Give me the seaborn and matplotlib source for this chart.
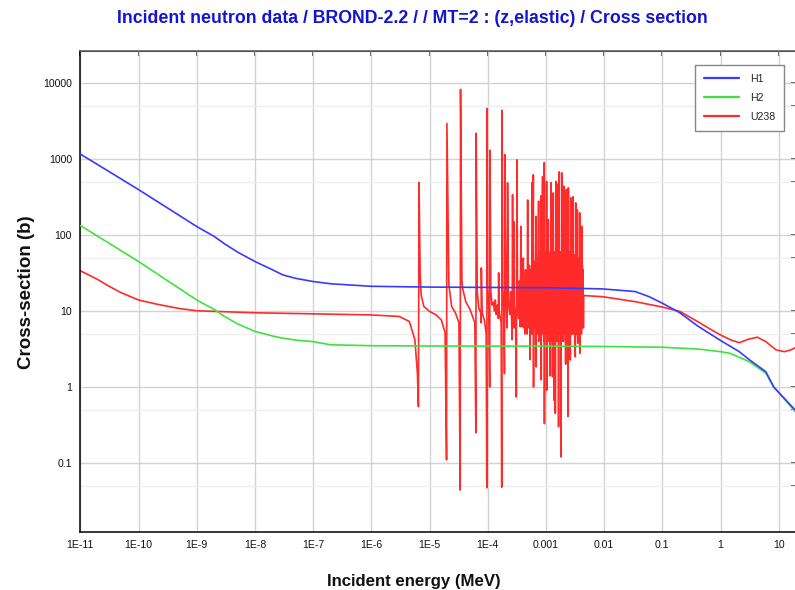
import matplotlib
matplotlib.use("Agg")
import matplotlib.pyplot as plt
import seaborn as sns
import pandas as pd
from matplotlib import font_manager
from matplotlib.ticker import FixedLocator, NullLocator, NullFormatter

# ---------------- data ----------------
title_text = "Incident neutron data / BROND-2.2 / / MT=2 : (z,elastic) / Cross section"
x_label = "Incident energy (MeV)"
y_label = "Cross-section (b)"

x_ticks = [1e-11, 1e-10, 1e-9, 1e-8, 1e-7, 1e-6, 1e-5, 1e-4, 1e-3, 1e-2, 1e-1, 1, 10]
x_tick_labels = ["1E-11", "1E-10", "1E-9", "1E-8", "1E-7", "1E-6", "1E-5", "1E-4",
                 "0.001", "0.01", "0.1", "1", "10"]
y_ticks = [0.1, 1, 10, 100, 1000, 10000]
y_tick_labels = ["0.1", "1", "10", "100", "1000", "10000"]
y_minor_ticks = [0.05, 0.5, 5, 50, 500, 5000]

series_names = ["H1", "H2", "U238"]
series_colors = ["#3a3aff", "#3ee23e", "#ff2a2a"]

h1_energy_mev = [1e-11, 1e-10, 1e-9, 2e-9, 3e-9, 5e-9, 1e-8, 2e-8, 3e-8, 5e-8, 1e-7, 2e-7,
                 1e-6, 1e-5, 1e-4, 1e-3, 9.2e-3, 3.4e-2, 5.9e-2, 0.1, 0.2, 0.4, 1.0, 2.1,
                 3.1, 6.0, 8.2, 20.0]
h1_xs_b = [1170, 398, 130, 96, 77, 60, 45, 35, 30, 27, 24.5, 22.9,
           21.2, 20.7, 20.5, 20.3, 19.6, 18.1, 15.5, 12.7, 9.5, 6.4, 4.1, 2.92,
           2.3, 1.59, 1.0, 0.48]

h2_energy_mev = [1e-11, 1e-10, 1e-9, 2e-9, 3e-9, 5e-9, 1e-8, 2e-8, 3e-8, 5e-8, 1e-7, 2e-7,
                 1e-6, 1e-5, 1e-3, 1e-2, 0.1, 0.4, 1.0, 1.45, 2.3, 3.1, 6.0, 8.2, 20.0]
h2_xs_b = [134, 45, 14, 10.5, 8.5, 6.8, 5.4, 4.7, 4.4, 4.15, 3.96, 3.6,
           3.5, 3.47, 3.45, 3.42, 3.34, 3.17, 2.92, 2.78, 2.39, 2.16, 1.52, 1.0, 0.46]

# U238 energies given in eV
u238_energy_ev = [
    1e-5, 2e-5, 3.2e-5, 5e-5, 1e-4, 2e-4, 5e-4, 1e-3, 1e-2, 0.1, 1, 3, 4.5, 5.6, 6.2, 6.45,
    6.6, 6.9, 7.2, 8, 10,
    13, 16, 18.5, 19.6, 19.9, 21.5, 24, 28, 32, 33.6, 34.1, 36, 37, 42, 50, 60, 62.5, 63.3,
    66, 70, 76, 77.3, 77.6, 80, 88, 94, 96.5, 97.5, 100, 104, 108, 109.5, 113, 119, 125,
    130, 135, 140, 146, 152, 154, 157, 170, 174, 176.5, 180, 188, 194, 196, 205, 214, 219,
    228, 240, 248, 258, 262, 267, 272, 278, 282, 287, 300, 310, 318, 325, 340, 352, 362,
    372, 380, 392, 400, 409, 418, 426, 435, 446, 455, 466, 476, 485, 493, 503, 512, 522,
    533, 540, 548, 560, 570, 577, 585, 596, 607, 612, 620, 630, 640, 650, 661, 675, 680,
    690, 700, 712, 722, 735, 748, 754, 762, 772, 782, 795, 808, 822, 830, 840, 850, 862,
    876, 882, 895, 905, 917, 930, 937, 942, 952, 965, 978, 990, 1005, 1016, 1026, 1032,
    1045, 1058, 1070, 1083, 1099, 1110, 1125, 1140, 1155, 1170, 1185, 1200, 1223, 1230,
    1245, 1262, 1280, 1295, 1315, 1338, 1345, 1360, 1380, 1400, 1418, 1435, 1450, 1484,
    1492, 1510, 1530, 1555, 1565, 1585, 1605, 1625, 1648, 1670, 1698, 1710, 1740, 1770,
    1790, 1813, 1835, 1860, 1882, 1895, 1920, 1945, 1970, 1995, 2020, 2053, 2065, 2090,
    2120, 2150, 2180, 2210, 2245, 2260, 2290, 2330, 2360, 2400, 2430, 2450, 2490, 2530,
    2570, 2620, 2670, 2690, 2730, 2770, 2820, 2870, 2930, 2950, 2990, 3040, 3090, 3140,
    3190, 3247, 3270, 3330, 3400, 3460, 3480, 3520, 3560, 3620, 3680, 3740, 3796, 3820,
    3870, 3940, 4000, 4070, 4130, 4160, 4220, 4280, 4340, 4400, 4450,
    9200, 34400, 1e5, 2e5, 4e5, 7e5, 1e6, 1.5e6, 2.1e6, 3e6, 4.3e6, 6e6, 9e6, 1.25e7,
    1.6e7, 2e7]
u238_xs_b = [
    34, 26, 21, 17.5, 14, 12.4, 10.8, 10.1, 9.5, 9.2, 8.9, 8.5, 7.3, 4.2, 1.5, 0.55,
    490, 30, 16, 11.5, 9.9,
    8.9, 7.6, 5.2, 0.11, 2950, 22, 11.5, 9.4, 7, 0.044, 8300, 25, 20, 13.3, 10.4, 7, 0.25, 2200,
    18, 11, 9.5, 7, 37, 9.5, 7.5, 5, 0.047, 4650, 20, 12, 1.0, 1310, 18, 12, 13,
    10, 14, 9, 12, 8, 32, 10, 7, 0.048, 4400, 20, 11, 1.5, 1150, 15, 6, 490,
    12, 9, 18, 7, 4.2, 340, 14, 6, 150, 12, 9, 0.74, 980, 14, 8, 25, 6.2,
    130, 8, 6.2, 40, 50, 6, 28, 5, 35, 6, 22, 5, 290, 6, 30, 8, 40,
    2.3, 25, 7, 35, 5, 490, 9, 5, 625, 1.0, 30, 6, 45, 7, 25, 176, 1.85,
    30, 7, 50, 5, 40, 280, 4, 45, 7, 60, 5, 50, 330, 1.24, 35, 6, 55,
    590, 5, 40, 6, 60, 4, 905, 0.33, 45, 6, 55, 5, 60, 5, 510, 0.91,
    40, 5, 65, 6, 160, 4, 50, 6, 45, 1.4, 60, 5, 490, 4,
    55, 6, 70, 1.37, 50, 360, 5, 55, 0.67, 60, 6, 45, 0.45, 510,
    4, 55, 5, 470, 4, 60, 6, 50, 0.30, 65, 680, 5, 55, 5,
    60, 0.12, 55, 5, 660, 4, 60, 6, 55, 4, 65, 440, 5, 55,
    5, 60, 2, 50, 400, 6, 55, 5, 60, 0.41, 420, 6, 55, 5,
    60, 2.27, 310, 6, 55, 5, 60, 5, 320, 6, 50, 5, 55, 6,
    2.5, 266, 6, 50, 5, 215, 6, 3.76, 50, 6, 45, 6, 197, 2.78,
    50, 6, 45, 5, 130, 6, 40, 7, 35, 6, 16,
    15.5, 13.3, 11.3, 9.9, 7.3, 5.65, 4.85, 4.17, 3.84, 4.26, 4.53, 3.96, 3.08, 2.92,
    3.08, 3.34]

EV_TO_MEV = 1e-6

# ---------------- fonts / style ----------------
sns.set_style("white")
names = {f.name for f in font_manager.fontManager.ttflist}
NARROW = "Liberation Sans Narrow" if "Liberation Sans Narrow" in names else "Liberation Sans"
plt.rcParams["font.family"] = [NARROW, "DejaVu Sans"]

df = pd.concat([
    pd.DataFrame({"energy": h1_energy_mev, "xs": h1_xs_b, "nuclide": "H1"}),
    pd.DataFrame({"energy": h2_energy_mev, "xs": h2_xs_b, "nuclide": "H2"}),
    pd.DataFrame({"energy": [e * EV_TO_MEV for e in u238_energy_ev], "xs": u238_xs_b,
                  "nuclide": "U238"}),
], ignore_index=True)

fig = plt.figure(figsize=(7.95, 5.90), dpi=100)
ax = fig.add_axes([0.1010, 0.0983, 0.9003, 0.8158])
ax.set_xscale("log")
ax.set_yscale("log")

palette = dict(zip(series_names, series_colors))
zorders = {"U238": 2, "H2": 3, "H1": 4}
for name in ["U238", "H2", "H1"]:
    sns.lineplot(data=df[df["nuclide"] == name], x="energy", y="xs", color=palette[name],
                 estimator=None, sort=False, linewidth=1.2, ax=ax, zorder=zorders[name],
                 legend=False)

ax.set_xlim(1e-11, 19.8)
ax.set_ylim(0.01233, 26850)

ax.set_xticks(x_ticks, x_tick_labels)
ax.xaxis.set_minor_locator(NullLocator())
ax.set_yticks(y_ticks, y_tick_labels)
ax.yaxis.set_minor_locator(FixedLocator(y_minor_ticks))
ax.yaxis.set_minor_formatter(NullFormatter())

ax.grid(True, which="major", color="#d2d2d2", linewidth=1.0, zorder=0)
ax.yaxis.grid(True, which="minor", color="#efefef", linewidth=1.0)
ax.set_axisbelow(True)

ax.tick_params(which="major", direction="inout", length=6, width=1, colors="black",
               labelsize=7.6, pad=3, top=False, right=False)
ax.tick_params(axis="y", which="minor", direction="in", length=3, width=1, colors="black")
for lab in ax.get_xticklabels() + ax.get_yticklabels():
    lab.set_color("#111111")

for side in ["left", "bottom"]:
    ax.spines[side].set_color("black")
    ax.spines[side].set_linewidth(1.1)
ax.spines["top"].set_color("#555555")
ax.spines["top"].set_linewidth(1.1)
ax.spines["right"].set_color("#555555")

sec_x = ax.secondary_xaxis("top")
sec_x.set_xticks(x_ticks)
sec_x.xaxis.set_major_formatter(NullFormatter())
sec_x.xaxis.set_minor_locator(NullLocator())
sec_x.tick_params(direction="in", length=3.5, width=1.1, color="#222222")
sec_x.spines["top"].set_color("#555555")

sec_y = ax.secondary_yaxis("right")
sec_y.set_yticks(y_ticks)
sec_y.yaxis.set_major_formatter(NullFormatter())
sec_y.yaxis.set_minor_locator(FixedLocator(y_minor_ticks))
sec_y.yaxis.set_minor_formatter(NullFormatter())
sec_y.tick_params(which="both", direction="in", length=3.5, width=1.1, color="#222222")

ax.set_xlabel("")
ax.set_ylabel("")

fig.text(0.519, 0.969, title_text, ha="center", va="center", color="#1414d2",
         fontsize=12.8, fontweight="bold", family=[NARROW, "DejaVu Sans"])
fig.text(0.521, 0.015, x_label, ha="center", va="center", color="#111111",
         fontsize=12.1, fontweight="bold", family=[NARROW, "DejaVu Sans"])
fig.text(0.033, 0.505, y_label, ha="center", va="center", rotation=90, color="#111111",
         fontsize=13.5, fontweight="bold", family=["Liberation Sans", "DejaVu Sans"])

handles = [plt.Line2D([], [], color=c, linewidth=1.6) for c in series_colors]
leg = fig.legend(handles, series_names, loc="upper right", bbox_to_anchor=(0.986, 0.890),
                 fontsize=7.6, frameon=True, fancybox=False, framealpha=1.0,
                 edgecolor="#888888", handlelength=3.3, handletextpad=1.0,
                 labelspacing=0.85, borderpad=0.85, borderaxespad=0.0)
leg.get_frame().set_linewidth(1.0)

fig.savefig("out.png", dpi=100)
